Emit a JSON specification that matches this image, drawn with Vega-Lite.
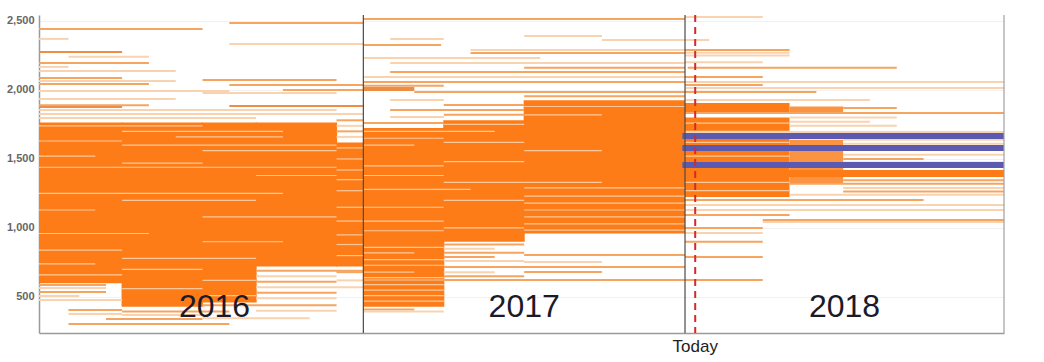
{
  "$schema": "https://vega.github.io/schema/vega-lite/v6.json",
  "width": 965,
  "height": 318,
  "autosize": "none",
  "padding": {"left": 39, "top": 15, "right": 40, "bottom": 29},
  "background": "white",
  "config": {"view": {"stroke": null}, "font": "Liberation Sans"},
  "datasets": {
    "blocks": [
      {"x0": 0, "x1": 3.12, "v0": 600, "v1": 1765, "tone": "solid"},
      {"x0": 3.08, "x1": 6.12, "v0": 430, "v1": 1765, "tone": "solid"},
      {"x0": 6.08, "x1": 8.12, "v0": 460, "v1": 1765, "tone": "solid"},
      {"x0": 8.08, "x1": 11.12, "v0": 720, "v1": 1765, "tone": "solid"},
      {"x0": 11.08, "x1": 12.1, "v0": 720, "v1": 1620, "tone": "solid"},
      {"x0": 12.1, "x1": 15.12, "v0": 900, "v1": 1725, "tone": "solid"},
      {"x0": 12.1, "x1": 15.12, "v0": 430, "v1": 905, "tone": "solid"},
      {"x0": 15.08, "x1": 18.12, "v0": 900, "v1": 1780, "tone": "solid"},
      {"x0": 18.08, "x1": 24.1, "v0": 1255, "v1": 1925, "tone": "solid"},
      {"x0": 18.08, "x1": 24.1, "v0": 960, "v1": 1260, "tone": "solid"},
      {"x0": 24.1, "x1": 28.0, "v0": 1225, "v1": 1800, "tone": "solid"},
      {"x0": 24.1, "x1": 28.0, "v0": 1840, "v1": 1905, "tone": "solid"},
      {"x0": 28.0, "x1": 30.0, "v0": 1325, "v1": 1640, "tone": "semi"},
      {"x0": 28.0, "x1": 30.0, "v0": 1840, "v1": 1880, "tone": "semi"},
      {"x0": 24.1, "x1": 36, "v0": 1370, "v1": 1420, "tone": "solid"}
    ],
    "gaps": [
      {"v": 1740, "x0": 0, "x1": 6.1}, {"v": 1700, "x0": 3.1, "x1": 9.1}, {"v": 1660, "x0": 5.1, "x1": 9.1},
      {"v": 1630, "x0": 0, "x1": 3.1}, {"v": 1600, "x0": 3.1, "x1": 11.1}, {"v": 1560, "x0": 6.1, "x1": 11.1},
      {"v": 1520, "x0": 0, "x1": 2.1}, {"v": 1470, "x0": 3.1, "x1": 6.1}, {"v": 1440, "x0": 0, "x1": 11.1},
      {"v": 1380, "x0": 8.1, "x1": 11.1}, {"v": 1250, "x0": 0, "x1": 9.1}, {"v": 1200, "x0": 3.1, "x1": 8.1},
      {"v": 1130, "x0": 0, "x1": 2.1}, {"v": 1080, "x0": 6.1, "x1": 11.1}, {"v": 960, "x0": 0, "x1": 4.1},
      {"v": 900, "x0": 6.1, "x1": 9.1}, {"v": 840, "x0": 0, "x1": 3.1}, {"v": 780, "x0": 3.1, "x1": 8.1},
      {"v": 740, "x0": 0, "x1": 2.1}, {"v": 700, "x0": 3.1, "x1": 6.1}, {"v": 660, "x0": 0, "x1": 3.1},
      {"v": 620, "x0": 6.1, "x1": 8.1}, {"v": 560, "x0": 3.1, "x1": 6.1}, {"v": 510, "x0": 6.1, "x1": 8.1},
      {"v": 1580, "x0": 11.1, "x1": 12.1}, {"v": 1500, "x0": 11.1, "x1": 12.1}, {"v": 1420, "x0": 11.1, "x1": 12.1},
      {"v": 1350, "x0": 11.1, "x1": 12.1}, {"v": 1270, "x0": 11.1, "x1": 12.1}, {"v": 1150, "x0": 11.1, "x1": 12.1},
      {"v": 1050, "x0": 11.1, "x1": 12.1}, {"v": 950, "x0": 11.1, "x1": 12.1}, {"v": 880, "x0": 11.1, "x1": 12.1},
      {"v": 800, "x0": 11.1, "x1": 12.1},
      {"v": 1700, "x0": 12.1, "x1": 15.1}, {"v": 1650, "x0": 12.1, "x1": 15.1}, {"v": 1600, "x0": 12.1, "x1": 14.0},
      {"v": 1450, "x0": 12.1, "x1": 15.1}, {"v": 1380, "x0": 12.1, "x1": 15.1}, {"v": 1280, "x0": 12.1, "x1": 16.1},
      {"v": 1150, "x0": 12.1, "x1": 15.1}, {"v": 1050, "x0": 12.1, "x1": 15.1}, {"v": 980, "x0": 12.1, "x1": 15.1},
      {"v": 860, "x0": 12.1, "x1": 15.1}, {"v": 820, "x0": 12.1, "x1": 14.0}, {"v": 770, "x0": 12.1, "x1": 15.1},
      {"v": 730, "x0": 12.1, "x1": 15.1}, {"v": 680, "x0": 12.1, "x1": 14.0}, {"v": 640, "x0": 12.1, "x1": 15.1},
      {"v": 590, "x0": 12.1, "x1": 15.1}, {"v": 550, "x0": 12.1, "x1": 15.1}, {"v": 510, "x0": 12.1, "x1": 15.1},
      {"v": 470, "x0": 12.1, "x1": 15.1},
      {"v": 1750, "x0": 15.1, "x1": 18.1}, {"v": 1700, "x0": 15.1, "x1": 17.0}, {"v": 1620, "x0": 15.1, "x1": 18.1},
      {"v": 1480, "x0": 15.1, "x1": 18.1}, {"v": 1330, "x0": 15.1, "x1": 18.1}, {"v": 1200, "x0": 15.1, "x1": 18.1},
      {"v": 1000, "x0": 15.1, "x1": 18.1},
      {"v": 1880, "x0": 18.1, "x1": 24.1}, {"v": 1820, "x0": 18.1, "x1": 21.0}, {"v": 1560, "x0": 18.1, "x1": 21.0},
      {"v": 1330, "x0": 18.1, "x1": 21.0}, {"v": 1290, "x0": 18.1, "x1": 24.1}, {"v": 1230, "x0": 18.1, "x1": 24.1},
      {"v": 1180, "x0": 18.1, "x1": 24.1}, {"v": 1130, "x0": 18.1, "x1": 24.1}, {"v": 1080, "x0": 18.1, "x1": 24.1},
      {"v": 1030, "x0": 18.1, "x1": 24.1}, {"v": 985, "x0": 18.1, "x1": 24.1},
      {"v": 1760, "x0": 24.1, "x1": 28.0}, {"v": 1700, "x0": 24.1, "x1": 28.0}, {"v": 1620, "x0": 24.1, "x1": 28.0},
      {"v": 1520, "x0": 24.1, "x1": 28.0}, {"v": 1330, "x0": 24.1, "x1": 28.0}, {"v": 1270, "x0": 24.1, "x1": 28.0}
    ],
    "lines": [
      {"v": 2442, "x0": 0, "x1": 6.1, "tone": "mid"}, {"v": 2370, "x0": 0, "x1": 1.1, "tone": "light"},
      {"v": 2275, "x0": 0, "x1": 3.1, "tone": "dark"}, {"v": 2240, "x0": 1.1, "x1": 4.1, "tone": "light"},
      {"v": 2195, "x0": 0, "x1": 4.1, "tone": "mid"}, {"v": 2167, "x0": 0, "x1": 1.1, "tone": "light"},
      {"v": 2138, "x0": 0, "x1": 5.1, "tone": "light"}, {"v": 2087, "x0": 0, "x1": 3.1, "tone": "mid"},
      {"v": 2065, "x0": 0, "x1": 5.1, "tone": "light"}, {"v": 2043, "x0": 0, "x1": 4.1, "tone": "mid"},
      {"v": 1993, "x0": 0, "x1": 7.1, "tone": "light"}, {"v": 1935, "x0": 0, "x1": 5.1, "tone": "light"},
      {"v": 1890, "x0": 0, "x1": 4.1, "tone": "mid"}, {"v": 1877, "x0": 0, "x1": 3.1, "tone": "dark"},
      {"v": 1855, "x0": 0, "x1": 11.1, "tone": "light"}, {"v": 1826, "x0": 0, "x1": 12.1, "tone": "light"},
      {"v": 1797, "x0": 0, "x1": 8.1, "tone": "light"}, {"v": 2485, "x0": 7.1, "x1": 12.1, "tone": "mid"},
      {"v": 2333, "x0": 7.1, "x1": 12.1, "tone": "light"}, {"v": 2072, "x0": 6.1, "x1": 11.1, "tone": "mid"},
      {"v": 2036, "x0": 7.1, "x1": 12.1, "tone": "mid"}, {"v": 2000, "x0": 9.1, "x1": 12.1, "tone": "mid"},
      {"v": 1978, "x0": 6.1, "x1": 11.1, "tone": "light"}, {"v": 1884, "x0": 7.1, "x1": 12.1, "tone": "dark"},
      {"v": 1780, "x0": 11.1, "x1": 12.1, "tone": "mid"}, {"v": 1740, "x0": 11.1, "x1": 12.1, "tone": "light"},
      {"v": 1700, "x0": 11.1, "x1": 12.1, "tone": "mid"}, {"v": 1660, "x0": 11.1, "x1": 12.1, "tone": "light"},
      {"v": 587, "x0": 0, "x1": 2.5, "tone": "mid"}, {"v": 565, "x0": 0, "x1": 2.5, "tone": "light"},
      {"v": 536, "x0": 0, "x1": 2.5, "tone": "mid"}, {"v": 507, "x0": 0, "x1": 1.5, "tone": "light"},
      {"v": 478, "x0": 0, "x1": 3.1, "tone": "light"}, {"v": 406, "x0": 1.1, "x1": 3.1, "tone": "mid"},
      {"v": 377, "x0": 1.1, "x1": 3.1, "tone": "light"}, {"v": 395, "x0": 3.1, "x1": 7.1, "tone": "mid"},
      {"v": 370, "x0": 3.1, "x1": 6.1, "tone": "light"}, {"v": 340, "x0": 2.5, "x1": 6.1, "tone": "mid"},
      {"v": 304, "x0": 1.1, "x1": 7.1, "tone": "mid"}, {"v": 690, "x0": 8.1, "x1": 12.1, "tone": "mid"},
      {"v": 650, "x0": 8.1, "x1": 11.1, "tone": "light"}, {"v": 610, "x0": 8.1, "x1": 11.1, "tone": "mid"},
      {"v": 570, "x0": 8.1, "x1": 12.1, "tone": "light"}, {"v": 530, "x0": 8.1, "x1": 11.1, "tone": "mid"},
      {"v": 490, "x0": 8.1, "x1": 11.1, "tone": "light"}, {"v": 440, "x0": 6.1, "x1": 11.1, "tone": "mid"},
      {"v": 400, "x0": 8.1, "x1": 11.1, "tone": "light"}, {"v": 345, "x0": 6.1, "x1": 10.1, "tone": "light"},
      {"v": 680, "x0": 11.1, "x1": 12.1, "tone": "mid"}, {"v": 620, "x0": 11.1, "x1": 12.1, "tone": "light"},
      {"v": 2514, "x0": 12.1, "x1": 24.1, "tone": "mid"}, {"v": 2370, "x0": 13.1, "x1": 15.1, "tone": "light"},
      {"v": 2326, "x0": 12.1, "x1": 15.0, "tone": "mid"}, {"v": 2290, "x0": 16.1, "x1": 24.1, "tone": "light"},
      {"v": 2268, "x0": 16.1, "x1": 24.1, "tone": "mid"}, {"v": 2232, "x0": 12.1, "x1": 18.7, "tone": "light"},
      {"v": 2196, "x0": 13.1, "x1": 24.1, "tone": "light"}, {"v": 2160, "x0": 18.1, "x1": 24.1, "tone": "mid"},
      {"v": 2130, "x0": 13.1, "x1": 24.1, "tone": "mid"}, {"v": 2094, "x0": 12.1, "x1": 24.1, "tone": "light"},
      {"v": 2058, "x0": 12.1, "x1": 24.1, "tone": "mid"}, {"v": 2030, "x0": 12.1, "x1": 15.1, "tone": "mid"},
      {"v": 2014, "x0": 12.1, "x1": 14.0, "tone": "dark"}, {"v": 2000, "x0": 12.1, "x1": 14.0, "tone": "dark"},
      {"v": 1985, "x0": 14.0, "x1": 24.1, "tone": "mid"}, {"v": 1955, "x0": 18.1, "x1": 24.1, "tone": "mid"},
      {"v": 1927, "x0": 13.1, "x1": 15.1, "tone": "light"}, {"v": 1891, "x0": 15.1, "x1": 18.1, "tone": "mid"},
      {"v": 1855, "x0": 13.1, "x1": 18.1, "tone": "mid"}, {"v": 1820, "x0": 15.1, "x1": 18.1, "tone": "mid"},
      {"v": 1804, "x0": 13.1, "x1": 15.1, "tone": "light"}, {"v": 1761, "x0": 12.1, "x1": 15.1, "tone": "mid"},
      {"v": 2391, "x0": 18.1, "x1": 21.0, "tone": "light"}, {"v": 2362, "x0": 21.0, "x1": 24.1, "tone": "light"},
      {"v": 880, "x0": 15.1, "x1": 18.1, "tone": "mid"}, {"v": 850, "x0": 15.1, "x1": 17.0, "tone": "light"},
      {"v": 820, "x0": 15.1, "x1": 18.1, "tone": "mid"}, {"v": 790, "x0": 15.1, "x1": 17.0, "tone": "mid"},
      {"v": 760, "x0": 15.1, "x1": 18.1, "tone": "light"}, {"v": 680, "x0": 15.1, "x1": 17.0, "tone": "light"},
      {"v": 650, "x0": 15.1, "x1": 18.1, "tone": "mid"}, {"v": 804, "x0": 18.1, "x1": 24.1, "tone": "mid"},
      {"v": 754, "x0": 18.1, "x1": 21.0, "tone": "light"}, {"v": 717, "x0": 15.1, "x1": 24.1, "tone": "mid"},
      {"v": 681, "x0": 18.1, "x1": 21.0, "tone": "mid"}, {"v": 623, "x0": 12.1, "x1": 24.1, "tone": "mid"},
      {"v": 410, "x0": 12.1, "x1": 14.0, "tone": "mid"}, {"v": 395, "x0": 12.1, "x1": 15.1, "tone": "light"},
      {"v": 2529, "x0": 24.1, "x1": 27.0, "tone": "light"}, {"v": 2362, "x0": 24.1, "x1": 25.0, "tone": "light"},
      {"v": 2290, "x0": 24.1, "x1": 28.0, "tone": "mid"}, {"v": 2270, "x0": 24.1, "x1": 28.0, "tone": "light"},
      {"v": 2250, "x0": 24.1, "x1": 28.0, "tone": "light"}, {"v": 2200, "x0": 24.1, "x1": 27.0, "tone": "light"},
      {"v": 2160, "x0": 24.2, "x1": 32.0, "tone": "mid"}, {"v": 2094, "x0": 24.1, "x1": 27.0, "tone": "mid"},
      {"v": 2058, "x0": 24.1, "x1": 36, "tone": "light"}, {"v": 2036, "x0": 24.1, "x1": 27.0, "tone": "mid"},
      {"v": 2014, "x0": 24.1, "x1": 36, "tone": "light"}, {"v": 1985, "x0": 24.1, "x1": 29.0, "tone": "mid"},
      {"v": 1927, "x0": 24.1, "x1": 31.0, "tone": "light"}, {"v": 1870, "x0": 30.0, "x1": 32.0, "tone": "mid"},
      {"v": 1833, "x0": 24.1, "x1": 36, "tone": "mid"}, {"v": 1800, "x0": 28.0, "x1": 32.0, "tone": "light"},
      {"v": 1770, "x0": 28.0, "x1": 31.0, "tone": "light"}, {"v": 1740, "x0": 28.0, "x1": 32.0, "tone": "light"},
      {"v": 1696, "x0": 24.1, "x1": 36, "tone": "light"}, {"v": 1640, "x0": 30.0, "x1": 36, "tone": "light"},
      {"v": 1610, "x0": 30.0, "x1": 36, "tone": "light"}, {"v": 1530, "x0": 30.0, "x1": 36, "tone": "light"},
      {"v": 1500, "x0": 30.0, "x1": 33.0, "tone": "mid"}, {"v": 1475, "x0": 30.0, "x1": 36, "tone": "light"},
      {"v": 1345, "x0": 30.0, "x1": 36, "tone": "mid"}, {"v": 1320, "x0": 28.0, "x1": 36, "tone": "mid"},
      {"v": 1290, "x0": 30.0, "x1": 36, "tone": "light"}, {"v": 1265, "x0": 30.0, "x1": 36, "tone": "mid"},
      {"v": 1240, "x0": 28.0, "x1": 36, "tone": "light"}, {"v": 1203, "x0": 24.1, "x1": 33.0, "tone": "mid"},
      {"v": 1167, "x0": 24.1, "x1": 36, "tone": "light"}, {"v": 1130, "x0": 24.1, "x1": 36, "tone": "light"},
      {"v": 1094, "x0": 24.1, "x1": 28.0, "tone": "mid"}, {"v": 1058, "x0": 27.0, "x1": 36, "tone": "mid"},
      {"v": 1043, "x0": 27.0, "x1": 36, "tone": "light"}, {"v": 1000, "x0": 24.1, "x1": 27.0, "tone": "mid"},
      {"v": 963, "x0": 24.1, "x1": 27.0, "tone": "light"}, {"v": 900, "x0": 24.1, "x1": 27.0, "tone": "mid"},
      {"v": 790, "x0": 24.1, "x1": 27.0, "tone": "mid"}, {"v": 623, "x0": 24.1, "x1": 27.0, "tone": "mid"}
    ],
    "blue": [
      {"v": 1667, "x0": 24.0, "x1": 36},
      {"v": 1580, "x0": 24.0, "x1": 36},
      {"v": 1456, "x0": 24.0, "x1": 36}
    ],
    "seps": [
      {"x": 12.1, "kind": "year"},
      {"x": 24.1, "kind": "year"},
      {"x": 36, "kind": "edge"}
    ],
    "years": [
      {"x": 6.55, "v": 428, "label": "2016"},
      {"x": 18.1, "v": 428, "label": "2017"},
      {"x": 30.05, "v": 428, "label": "2018"}
    ],
    "today": [
      {"x": 24.48, "v": 138, "label": "Today"}
    ]
  },
  "layer": [
    {
      "data": {"name": "blocks"},
      "mark": {"type": "rect"},
      "encoding": {
        "x": {"field": "x0", "type": "quantitative", "scale": {"domain": [0, 36], "nice": false, "zero": false},
              "axis": {"labels": false, "ticks": false, "grid": false, "title": null, "domainColor": "#9a9a9a", "domainWidth": 1.5}},
        "x2": {"field": "x1"},
        "y": {"field": "v0", "type": "quantitative", "scale": {"domain": [239, 2543], "nice": false, "zero": false},
              "axis": {"values": [500, 1000, 1500, 2000, 2500], "labelExpr": "format(datum.value, ',.0f')", "title": null, "ticks": false,
                       "labelColor": "#666666", "labelFontWeight": "bold", "labelFontSize": 11, "labelPadding": 5,
                       "domainColor": "#9a9a9a", "domainWidth": 1.5, "gridColor": "#f1f1f1"}},
        "y2": {"field": "v1"},
        "color": {"field": "tone", "type": "nominal", "legend": null,
                  "scale": {"domain": ["solid", "mid", "light", "dark", "semi"], "range": ["#FE7C17", "#F6A560", "#F9D3B0", "#EE8E45", "#FA9342"]}}
      }
    },
    {
      "data": {"name": "gaps"},
      "mark": {"type": "rule", "strokeWidth": 1.2, "color": "#FCC89A"},
      "encoding": {
        "x": {"field": "x0", "type": "quantitative"},
        "x2": {"field": "x1"},
        "y": {"field": "v", "type": "quantitative"}
      }
    },
    {
      "data": {"name": "lines"},
      "mark": {"type": "rule", "strokeWidth": 2},
      "encoding": {
        "x": {"field": "x0", "type": "quantitative"},
        "x2": {"field": "x1"},
        "y": {"field": "v", "type": "quantitative"},
        "color": {"field": "tone", "type": "nominal", "legend": null}
      }
    },
    {
      "data": {"name": "blue"},
      "mark": {"type": "rule", "strokeWidth": 6, "color": "#5C5AB0"},
      "encoding": {
        "x": {"field": "x0", "type": "quantitative"},
        "x2": {"field": "x1"},
        "y": {"field": "v", "type": "quantitative"}
      }
    },
    {
      "data": {"name": "seps"},
      "mark": {"type": "rule", "strokeWidth": 1.2},
      "encoding": {
        "x": {"field": "x", "type": "quantitative"},
        "stroke": {"field": "kind", "type": "nominal", "legend": null,
                   "scale": {"domain": ["year", "edge"], "range": ["#4a4a4a", "#a0a0a0"]}}
      }
    },
    {
      "data": {"name": "today"},
      "mark": {"type": "rule", "strokeWidth": 2, "color": "#D62A2A", "strokeDash": [7, 5]},
      "encoding": {
        "x": {"field": "x", "type": "quantitative"}
      }
    },
    {
      "data": {"name": "years"},
      "mark": {"type": "text", "fontSize": 32, "color": "#1a1a2a", "baseline": "middle", "align": "center", "font": "Liberation Sans"},
      "encoding": {
        "x": {"field": "x", "type": "quantitative"},
        "y": {"field": "v", "type": "quantitative"},
        "text": {"field": "label"}
      }
    },
    {
      "data": {"name": "today"},
      "mark": {"type": "text", "fontSize": 17, "color": "#222222", "baseline": "middle", "align": "center", "font": "Liberation Sans"},
      "encoding": {
        "x": {"field": "x", "type": "quantitative"},
        "y": {"field": "v", "type": "quantitative"},
        "text": {"field": "label"}
      }
    }
  ]
}
